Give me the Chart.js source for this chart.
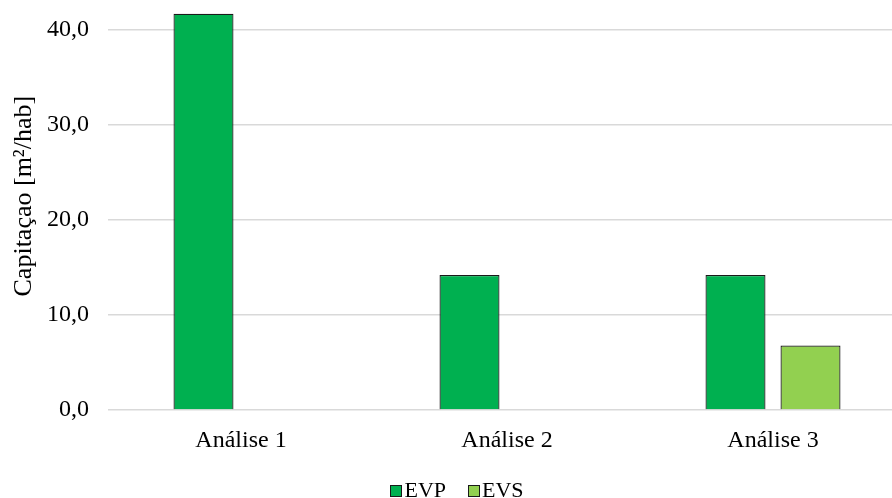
<!DOCTYPE html>
<html>
<head>
<meta charset="utf-8">
<script src="https://cdn.jsdelivr.net/npm/chart.js@4"></script>
<style>
  html, body { margin: 0; padding: 0; width: 892px; height: 498px; overflow: hidden; background: #fff; }
  #wrap { position: absolute; left: 0; top: -51px; width: 906px; height: 549px; }
  #legend {
    position: absolute; left: 0; top: 477px; width: 914px;
    display: flex; justify-content: center; align-items: center; gap: 22px;
    font-family: "Liberation Serif", "Times New Roman", serif; font-size: 22px; color: #000;
  }
  #legend .item { display: flex; align-items: center; gap: 2px; }
  #legend .box { width: 10px; height: 10px; border: 1px solid #1a1a1a; margin-top: 2px; }
</style>
</head>
<body>
<div id="wrap"><canvas id="c"></canvas></div>
<div id="legend"></div>
<script>
// Capitação de espaços verdes por análise (m²/hab)
const categories = ['Análise 1', 'Análise 2', 'Análise 3'];
const seriesNames = ['EVP', 'EVS'];
const evpValues = [41.7, 14.2, 14.2];
const evsValues = [null, null, 6.8];
const yTicks = [0, 10, 20, 30, 40];

const serif = '"Liberation Serif", "Times New Roman", serif';
const colors = ['#00B050', '#92D050'];

const chart = new Chart(document.getElementById('c'), {
  type: 'bar',
  data: {
    labels: categories,
    datasets: [
      { label: seriesNames[0], data: evpValues, backgroundColor: colors[0], borderColor: '#1a1a1a', borderWidth: 1.25 },
      { label: seriesNames[1], data: evsValues, backgroundColor: colors[1], borderColor: '#1a1a1a', borderWidth: 1.25 }
    ]
  },
  options: {
    responsive: true,
    maintainAspectRatio: false,
    animation: false,
    datasets: { bar: { categoryPercentage: 0.564, barPercentage: 0.8 } },
    layout: { padding: 0 },
    plugins: { legend: { display: false }, tooltip: { enabled: false } },
    scales: {
      x: {
        grid: { display: false, drawTicks: false },
        border: { display: false },
        ticks: { color: '#000', font: { family: serif, size: 24 }, padding: 16 },
        afterFit: s => { s.height = 88; }
      },
      y: {
        min: 0,
        max: 45,
        afterBuildTicks: s => { s.ticks = yTicks.map(v => ({ value: v })); },
        grid: { color: '#d9d9d9', lineWidth: 1.5, drawTicks: false },
        border: { display: false },
        ticks: {
          color: '#000', font: { family: serif, size: 24 }, padding: 19,
          callback: v => v.toFixed(1).replace('.', ',')
        },
        title: {
          display: true, text: 'Capitaçao [m²/hab]', color: '#000',
          font: { family: serif, size: 26 }, padding: { top: 9, bottom: 0 }
        },
        afterFit: s => { s.width = 108; }
      }
    }
  }
});

// Legend built from the chart's datasets
const legend = document.getElementById('legend');
chart.data.datasets.forEach(ds => {
  const item = document.createElement('div');
  item.className = 'item';
  const box = document.createElement('span');
  box.className = 'box';
  box.style.background = ds.backgroundColor;
  const txt = document.createElement('span');
  txt.textContent = ds.label;
  item.appendChild(box);
  item.appendChild(txt);
  legend.appendChild(item);
});
</script>
</body>
</html>
